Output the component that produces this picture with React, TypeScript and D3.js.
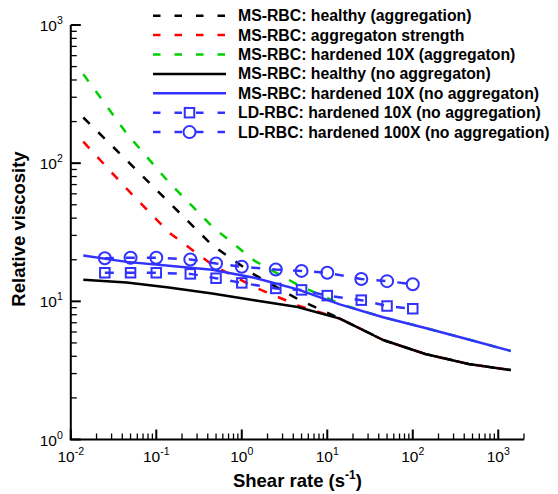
import React from 'react'
import * as d3 from 'd3'

// shear rates of the MS-RBC simulations
const msShear = [0.014, 0.045, 0.14, 0.45, 1.4, 4.5, 14, 45, 140, 450, 1400]
const healthyAgg = [214, 105, 52.2, 25.5, 15.6, 10.4, 7.5, 5.25, 4.16, 3.52, 3.18]
const aggStrength = [143, 65.3, 31.6, 18.4, 12.7, 9.35, 7.5, 5.25, 4.16, 3.52, 3.18]
const hardened10Agg = [441, 164, 72.8, 34.8, 19.7, 13.2, 9.6, 7.67, 6.42, 5.3, 4.37]
const healthyNoAgg = [14.3, 13.7, 12.6, 11.4, 10.2, 9.1, 7.5, 5.25, 4.16, 3.52, 3.18]
const hardened10NoAgg = [21.5, 19.3, 18.1, 16.9, 14.8, 12.2, 9.5, 7.67, 6.42, 5.3, 4.37]

// LD-RBC points
const ldShear = [0.025, 0.05, 0.1, 0.25, 0.5, 1, 2.5, 5, 10, 25, 50, 100]
const ld10 = [16.1, 16.1, 16.1, 15.8, 14.7, 13.6, 12.4, 12.1, 11.0, 10.2, 9.25, 8.84]
const ld100 = [20.5, 20.7, 20.7, 20.1, 18.8, 17.8, 17.0, 16.6, 16.1, 14.5, 14.0, 13.3]

const xTickExps = [-2, -1, 0, 1, 2, 3]
const yTickExps = [0, 1, 2, 3]

type Series = {
  label: string
  xs: number[]
  ys: number[]
  color: string
  dashed: boolean
  marker?: 'square' | 'circle'
}

const BLUE = '#3232ff'

const series: Series[] = [
  { label: 'MS-RBC: healthy (aggregation)', xs: msShear, ys: healthyAgg, color: '#000000', dashed: true },
  { label: 'MS-RBC: aggregaton strength', xs: msShear, ys: aggStrength, color: '#ff0000', dashed: true },
  { label: 'MS-RBC: hardened 10X (aggregaton)', xs: msShear, ys: hardened10Agg, color: '#00d000', dashed: true },
  { label: 'MS-RBC: healthy (no aggregaton)', xs: msShear, ys: healthyNoAgg, color: '#000000', dashed: false },
  { label: 'MS-RBC: hardened 10X (no aggregaton)', xs: msShear, ys: hardened10NoAgg, color: BLUE, dashed: false },
  { label: 'LD-RBC: hardened 10X (no aggregation)', xs: ldShear, ys: ld10, color: BLUE, dashed: true, marker: 'square' },
  { label: 'LD-RBC: hardened 100X (no aggregation)', xs: ldShear, ys: ld100, color: BLUE, dashed: true, marker: 'circle' },
]

const W = 558
const H = 494
const left = 70.8
const right = 524
const top = 25
const bottom = 439.5
const DASH = '9,12'
const FONT = '"Liberation Sans", Arial, Helvetica, sans-serif'

function Marker({ type, cx, cy, color }: { type: 'square' | 'circle'; cx: number; cy: number; color: string }) {
  if (type === 'square') {
    const s = 9.5
    return <rect x={cx - s / 2} y={cy - s / 2} width={s} height={s} fill="none" stroke={color} strokeWidth={2} />
  }
  return <circle cx={cx} cy={cy} r={6} fill="none" stroke={color} strokeWidth={2} />
}

export default function App() {
  const x = d3.scaleLog().domain([0.01, 2000]).range([left, right])
  const y = d3.scaleLog().domain([1, 1000]).range([bottom, top])

  const xTicks = x.ticks()
  const yTicks = y.ticks()
  const isMajor = (v: number) => Math.abs(Math.log10(v) - Math.round(Math.log10(v))) < 1e-6

  const line = (xs: number[], ys: number[]) =>
    d3
      .line<number>()
      .x((_, i) => x(xs[i]))
      .y((d) => y(d))(ys) ?? ''

  const legendX0 = 153
  const legendX1 = 226
  const legendY0 = 15.7
  const legendStep = 19.4

  return (
    <svg
      width={W}
      height={H}
      style={{ position: 'absolute', left: 0, top: 0, background: '#fff' }}
      fontFamily={FONT}
    >
      {/* data */}
      {series.map((s, i) => (
        <g key={i}>
          <path
            d={line(s.xs, s.ys)}
            fill="none"
            stroke={s.color}
            strokeWidth={2.5}
            strokeDasharray={s.dashed ? DASH : undefined}
            strokeLinejoin="round"
          />
          {s.marker &&
            s.xs.map((v, j) => <Marker key={j} type={s.marker!} cx={x(v)} cy={y(s.ys[j])} color={s.color} />)}
        </g>
      ))}

      {/* axes */}
      <line x1={left} x2={left} y1={top} y2={bottom} stroke="#000" strokeWidth={2} />
      <line x1={left - 1} x2={right} y1={bottom} y2={bottom} stroke="#000" strokeWidth={2} />
      {xTicks.map((t, i) => (
        <line
          key={i}
          x1={x(t)}
          x2={x(t)}
          y1={bottom}
          y2={bottom - (isMajor(t) ? 10 : 6)}
          stroke="#000"
          strokeWidth={isMajor(t) ? 2 : 1.3}
        />
      ))}
      {yTicks.map((t, i) => (
        <line
          key={i}
          x1={left}
          x2={left + (isMajor(t) ? 10 : 6)}
          y1={y(t)}
          y2={y(t)}
          stroke="#000"
          strokeWidth={isMajor(t) ? 2 : 1.3}
        />
      ))}
      {xTickExps.map((e) => (
        <text key={e} x={x(Math.pow(10, e))} y={bottom + 22} textAnchor="middle" fontSize={15.5}>
          10
          <tspan fontSize={10.5} dy={-7}>
            {e}
          </tspan>
        </text>
      ))}
      {yTickExps.map((e) => (
        <text key={e} x={left - 8} y={y(Math.pow(10, e)) + 6} textAnchor="end" fontSize={15.5}>
          10
          <tspan fontSize={10.5} dy={-7}>
            {e}
          </tspan>
        </text>
      ))}

      {/* axis titles */}
      <text x={(left + right) / 2} y={487} textAnchor="middle" fontSize={18.5} fontWeight="bold">
        Shear rate (s
        <tspan fontSize={12} dy={-8}>
          -1
        </tspan>
        <tspan dy={8}>)</tspan>
      </text>
      <text
        transform={`translate(25,229) rotate(-90)`}
        textAnchor="middle"
        fontSize={18.5}
        fontWeight="bold"
      >
        Relative viscosity
      </text>

      {/* legend */}
      {series.map((s, i) => {
        const ly = legendY0 + i * legendStep
        return (
          <g key={i}>
            <line
              x1={legendX0}
              x2={legendX1}
              y1={ly}
              y2={ly}
              stroke={s.color}
              strokeWidth={2.5}
              strokeDasharray={s.dashed ? '7.5,14' : undefined}
            />
            {s.marker && <Marker type={s.marker} cx={(legendX0 + legendX1) / 2} cy={ly} color={s.color} />}
            <text x={238} y={ly + 5.5} fontSize={15.8} fontWeight="bold">
              {s.label}
            </text>
          </g>
        )
      })}
    </svg>
  )
}
